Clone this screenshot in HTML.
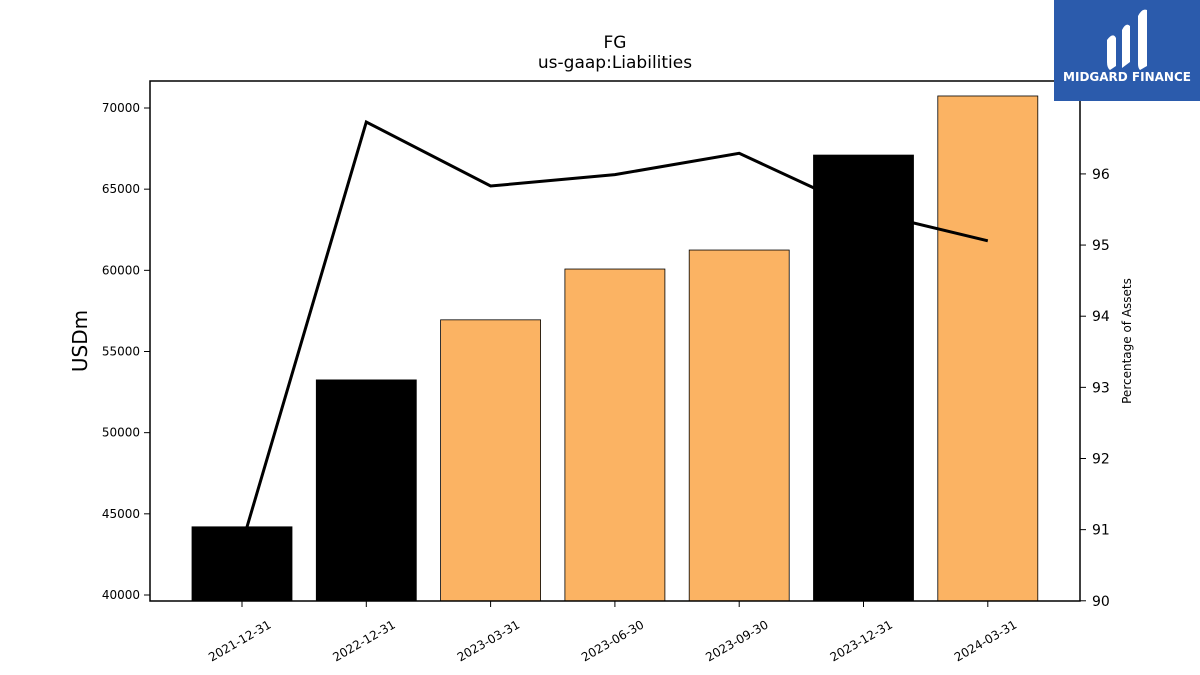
<!DOCTYPE html>
<html><head><meta charset="utf-8"><style>
html,body{margin:0;padding:0;background:#fff;width:1200px;height:675px;overflow:hidden;font-family:"Liberation Sans","DejaVu Sans",sans-serif}
</style></head><body>
<svg id="chart" width="1200" height="675" xmlns="http://www.w3.org/2000/svg" font-family="DejaVu Sans, Liberation Sans, sans-serif">
<text x="615" y="48" font-size="17" text-anchor="middle">FG</text>
<text x="615" y="68" font-size="17" text-anchor="middle">us-gaap:Liabilities</text>
<g id="bars"></g><g id="line"></g>
<rect x="150" y="81" width="930" height="520" fill="none" stroke="#000" stroke-width="1.5"/>
<g id="xticks"></g><g id="yticks"></g><g id="y2ticks"></g>
<text transform="translate(87,341) rotate(-90)" font-size="20" text-anchor="middle">USDm</text>
<text transform="translate(1131,341) rotate(-90)" font-size="12" text-anchor="middle">Percentage of Assets</text>
<g>
<rect x="1054" y="0" width="146" height="101" fill="#2b5bac"/>
<path d="M1107 40 q6-8 9-2 v28 l-6 4 q-3-2-3-8z M1122 30 q4-8 8-4 v36 l-8 6z M1138 16 q4-8 9-6 v56 l-7 4 q-2-2-2-6z" fill="#fff"/>
<text x="1127" y="81" font-size="12" font-weight="bold" fill="#fff" text-anchor="middle">MIDGARD FINANCE</text>
</g>
</svg>
<script>
const categories=["2021-12-31","2022-12-31","2023-03-31","2023-06-30","2023-09-30","2023-12-31","2024-03-31"];
const liabilities=[44200,53250,56950,60080,61250,67100,70740];
const barColors=["#000000","#000000","#fbb363","#fbb363","#fbb363","#000000","#fbb363"];
const pctAssets=[90.80,96.73,95.83,95.99,96.29,95.48,95.06];
const yTicks=[40000,45000,50000,55000,60000,65000,70000];
const y2Ticks=[90,91,92,93,94,95,96];
const NS="http://www.w3.org/2000/svg";
const X0=150,X1=1080,Y0=81,Y1=601;
const yMin=39630,yMax=71663,y2Min=89.997,y2Max=97.306;
const step=(X1-X0)/categories.length*0.936;
const xc=i=>242+i*124.3;
const y=v=>Y1-(v-yMin)/(yMax-yMin)*(Y1-Y0);
const y2=v=>Y1-(v-y2Min)/(y2Max-y2Min)*(Y1-Y0);
function mk(t,a,p){const e=document.createElementNS(NS,t);for(const k in a)e.setAttribute(k,a[k]);p.appendChild(e);return e;}
const gb=document.getElementById('bars');
categories.forEach((c,i)=>{
 const r=mk('rect',{x:xc(i)-50,y:y(liabilities[i]),width:100,height:Y1-y(liabilities[i]),fill:barColors[i],stroke:'#000','stroke-width':0.8},gb);
 
 
});
const gl=document.getElementById('line');
const pl=mk('polyline',{points:pctAssets.map((v,i)=>xc(i)+','+y2(v)).join(' '),fill:'none',stroke:'#000','stroke-width':3},gl);


const gx=document.getElementById('xticks');
categories.forEach((c,i)=>{
 mk('line',{x1:xc(i),x2:xc(i),y1:Y1,y2:Y1+6,stroke:'#000'},gx);
 const t=mk('text',{transform:`translate(${xc(i)+30},${Y1+26}) rotate(-30)`,'font-size':12,'text-anchor':'end'},gx);
 t.textContent=c;
 
 
});
const gy=document.getElementById('yticks');
yTicks.forEach(v=>{
 mk('line',{x1:X0-6,x2:X0,y1:y(v),y2:y(v),stroke:'#000'},gy);
 const t=mk('text',{x:X0-10,y:y(v)+4,'font-size':12,'text-anchor':'end'},gy);
 t.textContent=v;
 
 
});
const gy2=document.getElementById('y2ticks');
y2Ticks.forEach(v=>{
 mk('line',{x1:X1,x2:X1+6,y1:y2(v),y2:y2(v),stroke:'#000'},gy2);
 const t=mk('text',{x:X1+12,y:y2(v)+5,'font-size':14},gy2);
 t.textContent=v;
 
 
});
</script>
</body></html>
